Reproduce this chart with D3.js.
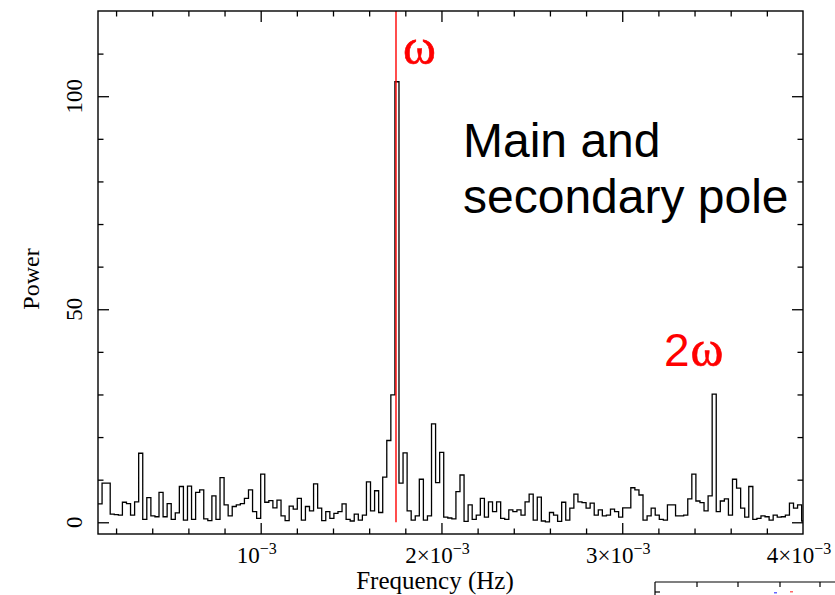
<!DOCTYPE html>
<html><head><meta charset="utf-8">
<script src="https://cdn.jsdelivr.net/npm/d3@7/dist/d3.min.js"></script>
<style>html,body{margin:0;padding:0;background:#fff;}svg{display:block;}</style>
</head><body>
<svg id="c" width="835" height="595"></svg>
<script>
// ---- data ----
const binStart = 1e-4;      // Hz, first bin edge
const binWidth = 2.25e-5;   // Hz
const power = [
 4.3,9.2,9.2,1.9,1.8,1.7,4.7,4.4,1.7,4.8,16.2,0.7,5.8,1.5,1.3,7.0,1.3,4.4,0.7,2.2,
 8.4,0.5,8.5,0.7,7.0,7.6,0.8,0.4,6.2,0.7,10.5,4.1,1.5,3.7,4.1,4.4,5.6,7.6,2.5,0.9,
 11.3,4.7,5.1,3.4,5.2,1.5,0.4,3.8,3.1,5.6,0.5,3.7,2.7,9.0,3.3,0.4,2.5,0.9,2.1,2.5,
 4.3,0.7,0.3,1.9,0.5,1.7,9.5,2.7,7.4,2.3,10.6,19.2,29.9,103.4,9.2,16.3,2.7,0.5,1.5,10.1,
 0.5,1.5,23.1,9.3,16.4,1.2,1.0,0.8,7.2,11.1,0.2,4.1,0.7,1.7,5.6,1.2,4.8,2.5,4.8,0.9,
 0.7,2.9,2.5,2.9,1.7,4.8,6.6,0.5,5.9,0.3,0.1,2.3,1.7,0.2,4.7,0.5,3.3,6.6,4.8,4.6,
 3.3,4.5,1.7,2.9,1.5,1.7,3.1,2.5,1.2,3.4,3.4,8.1,7.6,6.4,0.5,1.5,3.3,1.7,0.7,0.5,
 4.1,4.1,1.5,1.5,1.7,5.5,11.3,5.0,4.6,2.7,6.2,30.1,2.5,5.0,5.5,1.7,10.1,8.0,3.3,1.2,
 8.4,0.7,0.9,1.5,1.3,0.5,1.7,1.2,1.3,1.7,4.5,3.3,4.1,0.3
];
const xMajor = [1e-3, 2e-3, 3e-3, 4e-3];
const xMajorMant = ["", "2×", "3×", "4×"];
const xMinor = [2e-4,4e-4,6e-4,8e-4,1.2e-3,1.4e-3,1.6e-3,1.8e-3,2.2e-3,2.4e-3,2.6e-3,2.8e-3,3.2e-3,3.4e-3,3.6e-3,3.8e-3];
const yMajor = [0, 50, 100];
const yMinor = [10,20,30,40,60,70,80,90,110];
const omegaFreq = 1.7485e-3;

// ---- layout ----
const L = 98, R = 803, T = 11, B = 534;
const svg = d3.select("#c");
const x = d3.scaleLinear().domain([1e-4, 4e-3]).range([L, R]);
const y = d3.scaleLinear().domain([-2.75, 120]).range([B, T]);
const serif = "'Liberation Serif','Times New Roman',serif";
const sans = "'Liberation Sans',Arial,Helvetica,sans-serif";

svg.append("clipPath").attr("id","pc").append("rect")
  .attr("x",L).attr("y",T).attr("width",R-L).attr("height",B-T);

// histogram step line
const pts = power.map((v,i)=>[binStart + i*binWidth, v]);
pts.push([binStart + power.length*binWidth, power[power.length-1]]);
const line = d3.line().x(d=>x(d[0])).y(d=>y(d[1])).curve(d3.curveStepAfter);
svg.append("path").attr("d", line(pts)).attr("fill","none")
  .attr("stroke","#000").attr("stroke-width",1.3).attr("clip-path","url(#pc)");

// red line at omega
svg.append("line").attr("x1",x(omegaFreq)).attr("x2",x(omegaFreq))
  .attr("y1",T).attr("y2",y(0)).attr("stroke","#f00").attr("stroke-width",1.4);

// axes ticks (inward) via d3 axes
function ax(gen, tx, ty){
  const g = svg.append("g").attr("transform",`translate(${tx},${ty})`).call(gen);
  g.select(".domain").remove();
  g.selectAll("text").remove();
  g.selectAll("line").attr("stroke","#000").attr("stroke-width",1.3);
}
ax(d3.axisBottom(x).tickValues(xMinor).tickSize(-5.5), 0, B);
ax(d3.axisBottom(x).tickValues(xMajor.slice(0,3)).tickSize(-11), 0, B);
ax(d3.axisTop(x).tickValues(xMinor).tickSize(-5.5), 0, T);
ax(d3.axisTop(x).tickValues(xMajor.slice(0,3)).tickSize(-11), 0, T);
ax(d3.axisLeft(y).tickValues(yMinor).tickSize(-5.5), L, 0);
ax(d3.axisLeft(y).tickValues(yMajor).tickSize(-11), L, 0);
ax(d3.axisRight(y).tickValues(yMinor).tickSize(-5.5), R, 0);
ax(d3.axisRight(y).tickValues(yMajor).tickSize(-11), R, 0);

// frame
svg.append("rect").attr("x",L).attr("y",T).attr("width",R-L).attr("height",B-T)
  .attr("fill","none").attr("stroke","#000").attr("stroke-width",1.4);

// x tick labels
xMajor.forEach((v,i)=>{
  const t = svg.append("text").attr("x",x(v)-4).attr("y",563)
    .attr("text-anchor","middle").attr("font-family",serif).attr("font-size",23);
  t.append("tspan").text(xMajorMant[i] + "10");
  t.append("tspan").attr("font-size",16).attr("dy",-9).text("−3");
});
// y tick labels (rotated)
yMajor.forEach(v=>{
  svg.append("text").attr("transform",`translate(82,${y(v)}) rotate(-90)`)
    .attr("text-anchor","middle").attr("font-family",serif).attr("font-size",23).text(v);
});
// axis titles
svg.append("text").attr("x",435).attr("y",589).attr("text-anchor","middle")
  .attr("font-family",serif).attr("font-size",25).text("Frequency (Hz)");
svg.append("text").attr("transform","translate(39,279) rotate(-90)")
  .attr("text-anchor","middle").attr("font-family",serif).attr("font-size",24).text("Power");

// annotations
svg.append("text").attr("x",403).attr("y",64).attr("fill","#f00")
  .attr("stroke","#f00").attr("stroke-width",0.6)
  .attr("font-family",serif).attr("font-size",50).text("ω");
const t2 = svg.append("text").attr("x",664).attr("y",366).attr("fill","#f00");
t2.append("tspan").attr("font-family",sans).attr("font-size",46).text("2");
t2.append("tspan").attr("font-family",serif).attr("font-size",50).attr("dx",1)
  .attr("stroke","#f00").attr("stroke-width",0.6).text("ω");

svg.append("text").attr("x",463).attr("y",157).attr("font-family",sans)
  .attr("font-size",48).text("Main and");
svg.append("text").attr("x",463).attr("y",213).attr("font-family",sans)
  .attr("font-size",48).text("secondary pole");

// fragment of neighbouring panel (bottom right)
const frag = svg.append("g").attr("stroke","#000").attr("stroke-width",1.2);
frag.append("line").attr("x1",655).attr("x2",835).attr("y1",582).attr("y2",582);
frag.append("line").attr("x1",655).attr("x2",655).attr("y1",582).attr("y2",595);
[697,738,780,820].forEach(tx=>frag.append("line").attr("x1",tx).attr("x2",tx).attr("y1",582).attr("y2",587));
frag.append("line").attr("x1",655).attr("x2",660).attr("y1",592).attr("y2",592);
svg.append("rect").attr("x",774).attr("y",592).attr("width",3).attr("height",1.5).attr("fill","#66f");
svg.append("rect").attr("x",790).attr("y",591).attr("width",3).attr("height",1.5).attr("fill","#f66");
</script>
</body></html>
